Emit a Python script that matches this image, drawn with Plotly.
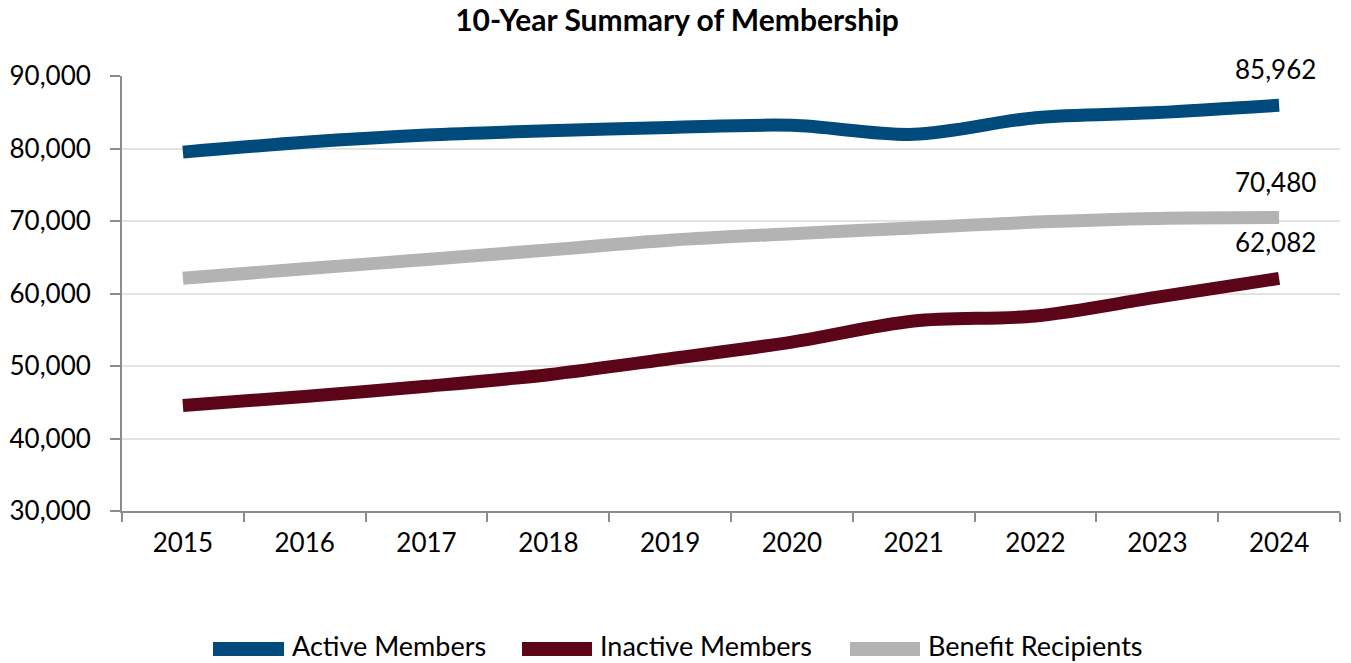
import plotly.graph_objects as go

# Fiscal years on the category axis
years = ["2015", "2016", "2017", "2018", "2019", "2020", "2021", "2022", "2023", "2024"]

# Membership counts per year
active_members = [79500, 80850, 81850, 82450, 82900, 83200, 81950, 84250, 84950, 85962]
inactive_members = [44550, 45800, 47200, 48800, 51000, 53300, 56200, 56900, 59500, 62082]
benefit_recipients = [62100, 63400, 64700, 66000, 67350, 68250, 69050, 69850, 70350, 70480]

# Y-axis tick values and labels
y_ticks = [30000, 40000, 50000, 60000, 70000, 80000, 90000]
y_tick_labels = ["30,000", "40,000", "50,000", "60,000", "70,000", "80,000", "90,000"]

series = [
    ("Active Members", active_members, "#004A7C"),
    ("Inactive Members", inactive_members, "#5C0418"),
    ("Benefit Recipients", benefit_recipients, "#B3B3B3"),
]

FONT = "Lato, 'Open Sans', sans-serif"

fig = go.Figure()
for name, values, color in series:
    fig.add_trace(go.Scatter(
        x=years, y=values, name=name, mode="lines",
        line=dict(color=color, width=13, shape="spline", smoothing=0.9),
        hoverinfo="x+y+name",
    ))

# Value labels on the final year of each series (category index of last year)
last = len(years) - 1
for name, values, color in series:
    fig.add_annotation(
        x=last, y=values[-1], text=f"{values[-1]:,}",
        showarrow=False, yshift=36, xshift=-4,
        font=dict(family=FONT, size=26, color="#000000"),
    )

# Legend drawn as wide colour bars with labels beneath the plot
W, H = 1351, 663
L, R, T, B = 122, 11, 76, 152
PW, PH = W - L - R, H - T - B
legend_items = [
    ("Active Members", "#004A7C", 213, 284),
    ("Inactive Members", "#5C0418", 522, 592),
    ("Benefit Recipients", "#B3B3B3", 850, 920),
]
for label, color, x0, x1 in legend_items:
    fig.add_shape(
        type="rect", xref="paper", yref="paper",
        x0=(x0 - L) / PW, x1=(x1 - L) / PW,
        y0=-(656 - (T + PH)) / PH, y1=-(642 - (T + PH)) / PH,
        fillcolor=color, line=dict(width=0),
    )
    fig.add_annotation(
        xref="paper", yref="paper",
        x=(x1 + 6 - L) / PW, y=-(645 - (T + PH)) / PH,
        xanchor="left", yanchor="middle", showarrow=False, text=label,
        font=dict(family=FONT, size=27, color="#000000"),
    )

fig.update_layout(
    width=W, height=H,
    margin=dict(l=L, r=R, t=T, b=B, autoexpand=False),
    paper_bgcolor="white", plot_bgcolor="white",
    showlegend=False,
    title=dict(
        text="<b>10-Year Summary of Membership</b>",
        x=677 / W, xref="container",
        xanchor="center", y=1 - 20 / H, yanchor="middle",
        font=dict(family=FONT, size=30, color="#000000"),
    ),
)

fig.update_xaxes(
    type="category", range=[-0.5, len(years) - 0.5], tickson="boundaries",
    showline=True, linecolor="#8C8C8C", linewidth=2,
    ticks="outside", ticklen=9, tickcolor="#8C8C8C", tickwidth=2,
    showgrid=False, ticklabelstandoff=8, tickangle=0, automargin=False,
    tickfont=dict(family=FONT, size=26, color="#000000"),
)
fig.update_yaxes(
    range=[30000, 90000], tickvals=y_ticks, ticktext=y_tick_labels,
    showline=True, linecolor="#8C8C8C", linewidth=2,
    ticks="outside", ticklen=10, tickcolor="#8C8C8C", tickwidth=2,
    showgrid=True, gridcolor="#E3E3E3", gridwidth=2,
    zeroline=False, ticklabelstandoff=14, automargin=False,
    tickfont=dict(family=FONT, size=26, color="#000000"),
)

fig.write_html("out.html")
